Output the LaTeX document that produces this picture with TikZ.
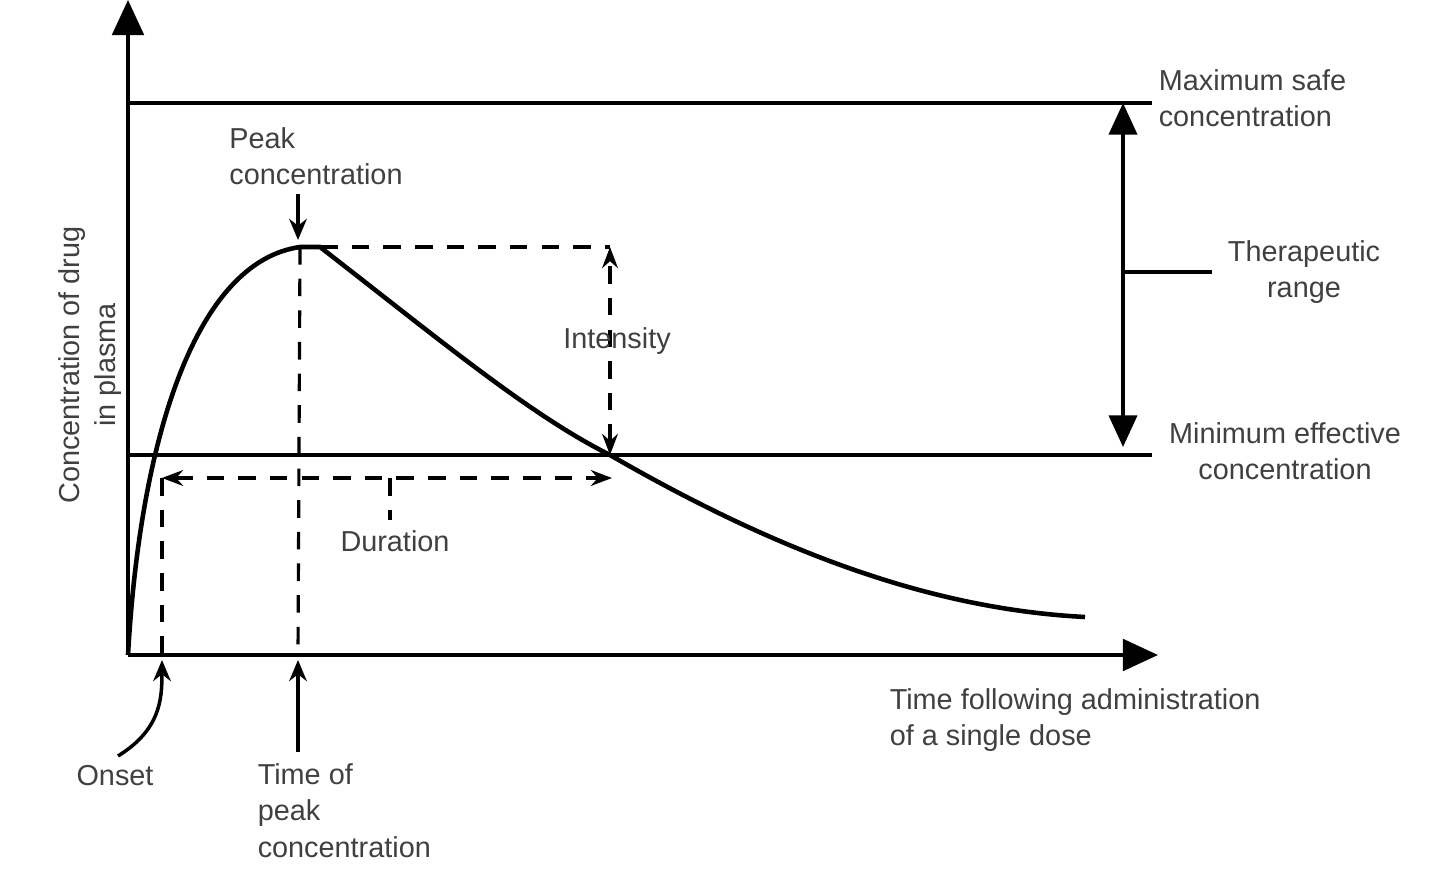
\documentclass[tikz,border=0pt]{standalone}
\usepackage{fontspec}
\setmainfont{Liberation Sans}
\usepackage{tikz}
\usetikzlibrary{arrows.meta, positioning, calc}

\tikzset{
    lbl/.style={font=\fontsize{8.2}{10.3}\selectfont, text=black!75, inner sep=0pt},
    guide/.style={dashed, dash pattern=on 5pt off 4pt, line width=0.9pt},
    big/.style={-{Triangle[length=10pt,width=9pt]}},
    tip/.style={-{Stealth[length=6pt,width=5pt]}}
}

\begin{document}
\begin{tikzpicture}[x=0.01cm, y=-0.01cm, line width=1pt]
    \useasboundingbox (0,0) rectangle (1440,892);

    % Axes
    \coordinate (o) at (128,655);
    \draw[big] (o) -- (128,0);
    \draw[big] (o) -- (1158,655);

    % Concentration levels
    \coordinate (msc) at (128,103);
    \coordinate (mec) at (128,455);
    \draw (msc) -- (1152,103);
    \draw (mec) -- (1152,455);

    % Plasma curve
    \coordinate (pk) at (300,247);
    \coordinate (cr) at (610,455);
    \draw[line width=1.3pt] (o) .. controls (140,440) and (195,262) .. (pk) -- (320,247)
        .. controls (440,340) and (530,415) .. (cr)
        .. controls (800,565) and (950,610) .. (1085,617);

    % Dashed guides
    \draw[guide] (pk) -- (298,655);
    \draw[guide] (320,247) -- (610,247);
    \draw[guide, {Stealth[length=6pt]}-{Stealth[length=6pt]}] (cr) -- (610,247);
    \draw[guide] (162,478) -- (162,655);
    \draw[guide, {Stealth[length=6pt]}-{Stealth[length=6pt]}] (162,478) -- (612,478);
    \draw[guide] (390,478) -- (390,520);

    % Therapeutic range
    \draw[{Triangle[length=9pt,width=8pt]}-{Triangle[length=9pt,width=8pt]}] (1123,103) -- (1123,447);
    \draw (1123,272) -- (1212,272);

    % Labels
    \node[lbl, align=left, anchor=west] (max) at (1157,98) {Maximum safe\\concentration};
    \node[lbl, align=center] (min) at (1285,451) {Minimum effective\\concentration};
    \node[lbl, align=center] (thr) at (1304,272) {Therapeutic\\range};
    \node[lbl, align=left] (peak) at (316,156) {Peak\\concentration};
    \node[lbl] (int) at (617,341) {Intensity};
    \node[lbl] (dur) at (395,541) {Duration};
    \node[lbl] (onset) at (115,776) {Onset};
    \node[lbl, align=left, anchor=north west] (tpk) at (256,762) {Time of\\peak\\concentration};
    \node[lbl, align=left, anchor=west] (time) at (888,720) {Time following administration\\of a single dose};
    \node[lbl, align=center, rotate=90] (ylab) at (90,365) {Concentration of drug\\in plasma};

    % Pointers
    \draw[tip] (298,194) -- (298,240);
    \draw[tip] (298,752) -- (298,660);
    \draw[tip] (118,756) .. controls (160,730) and (162,700) .. (162,660);
\end{tikzpicture}
\end{document}
